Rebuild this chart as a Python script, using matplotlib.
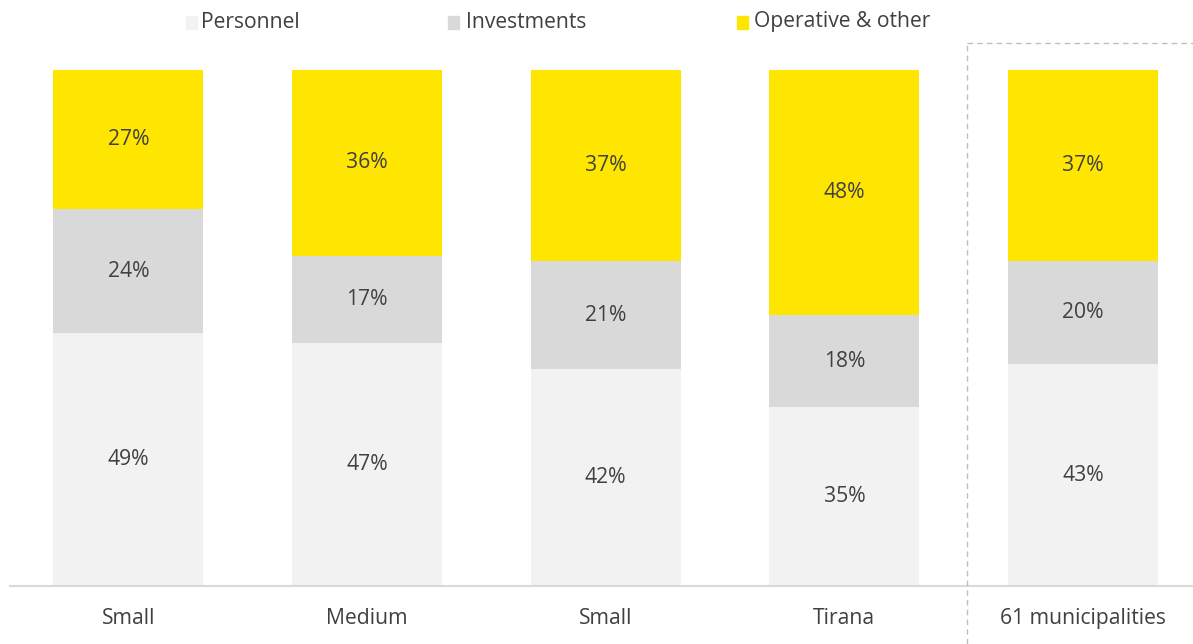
import numpy as np
import matplotlib.pyplot as plt
from matplotlib.patches import Rectangle
from matplotlib.lines import Line2D

plt.rcParams['font.family'] = ['Open Sans', 'DejaVu Sans']

categorias = ['Small', 'Medium', 'Small', 'Tirana', '61 municipalities']
personnel = [49, 47, 42, 35, 43]
investments = [24, 17, 21, 18, 20]
operative = [27, 36, 37, 48, 37]

series = [
    ('Personnel', personnel, '#F2F2F2'),
    ('Investments', investments, '#D9D9D9'),
    ('Operative & other', operative, '#FFE600'),
]
texto = '#404040'
fs = 15.2

W, H = 1193, 644
fig = plt.figure(figsize=(W / 100, H / 100), dpi=100)
ax = fig.add_axes([10 / W, (H - 586) / H, 1183 / W, 516 / H])

x = np.arange(len(categorias))
totales = np.array(personnel) + np.array(investments) + np.array(operative)
base = np.zeros(len(categorias))
for nombre, valores, color in series:
    frac = np.array(valores) / totales
    ax.bar(x, frac, 0.628, bottom=base, color=color, linewidth=0)
    for xi, b, f, v in zip(x, base, frac, valores):
        ax.text(xi, b + f / 2, f'{v}%', ha='center', va='center',
                fontsize=fs, color=texto)
    base += frac

ax.set_xlim(-0.496, 4.461)
ax.set_ylim(0, 1)
ax.set_xticks(x)
ax.set_xticklabels(categorias, fontsize=fs, color=texto)
ax.tick_params(axis='x', length=0, pad=16)
ax.set_yticks([])
for lado in ['top', 'right', 'left']:
    ax.spines[lado].set_visible(False)
ax.spines['bottom'].set_color('#D9D9D9')
ax.spines['bottom'].set_linewidth(1.5)

# leyenda manual
posiciones = [(186, 201), (448, 466), (737, 754)]
for (sx, tx), (nombre, _, color) in zip(posiciones, series):
    fig.patches.append(Rectangle((sx / W, 1 - 29 / H), 11 / W, 13 / H,
                                 transform=fig.transFigure, color=color))
    fig.text(tx / W, 1 - 22 / H, nombre, ha='left', va='center',
             fontsize=fs, color=texto)

# recuadro punteado del total
estilo = dict(color='#BFBFBF', linestyle=(0, (4, 3)), linewidth=1,
              transform=fig.transFigure)
fig.add_artist(Line2D([967 / W, 967 / W], [0, 1 - 43 / H], **estilo))
fig.add_artist(Line2D([967 / W, 1], [1 - 43 / H, 1 - 43 / H], **estilo))

fig.savefig('out.png', dpi=100)
